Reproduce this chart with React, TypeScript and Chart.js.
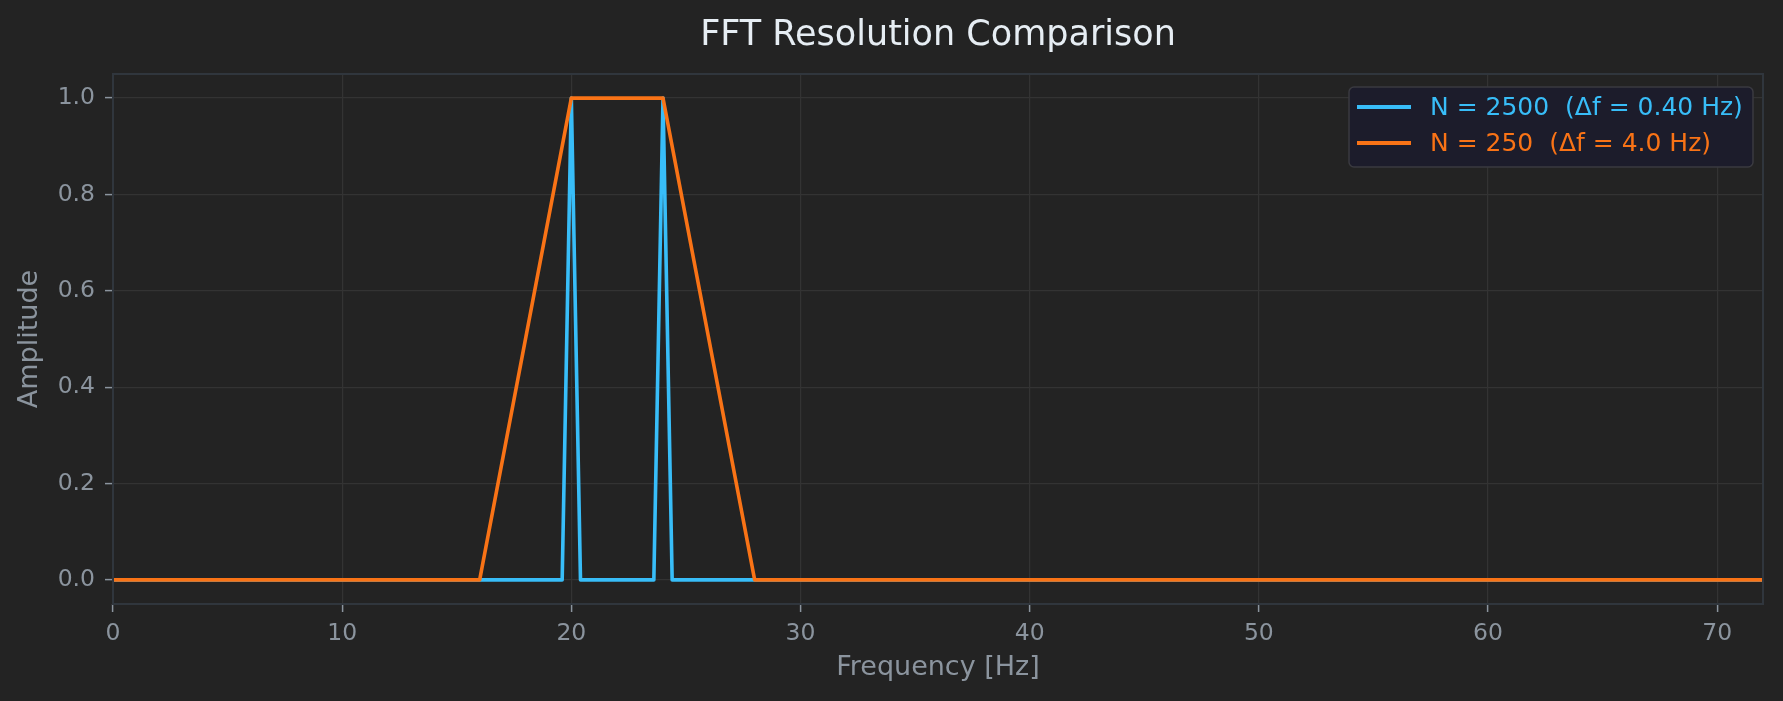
import { useEffect, useRef } from "react";
import { Chart, registerables } from "chart.js";

Chart.register(...registerables);

const TITLE = "FFT Resolution Comparison";
const X_LABEL = "Frequency [Hz]";
const Y_LABEL = "Amplitude";

const hiResLabel = "N = 2500  (Δf = 0.40 Hz)";
const hiResFreq = [0, 19.6, 20, 20.4, 23.6, 24, 24.4, 72];
const hiResAmp = [0, 0, 1, 0, 0, 1, 0, 0];

const loResLabel = "N = 250  (Δf = 4.0 Hz)";
const loResFreq = [0, 16, 20, 24, 28, 72];
const loResAmp = [0, 0, 1, 1, 0, 0];

const xTicks = [0, 10, 20, 30, 40, 50, 60, 70];
const yTicks = [0, 0.2, 0.4, 0.6, 0.8, 1.0];
const X_MIN = 0;
const X_MAX = 72;
const Y_MIN = -0.05;
const Y_MAX = 1.05;

const BG = "#232323";
const BLUE = "#38bdf8";
const ORANGE = "#f97316";
const GRID = "#333333";
const SPINE = "#30363d";
const TICK_TEXT = "#8b949e";
const TITLE_TEXT = "#e6edf3";
const FONT = "'DejaVu Sans', sans-serif";

const W = 1783;
const H = 701;

const titlePlugin = {
  id: "customTitle",
  afterDraw(chart: any) {
    const { ctx, chartArea } = chart;
    ctx.save();
    ctx.font = `35px ${FONT}`;
    ctx.fillStyle = TITLE_TEXT;
    ctx.textAlign = "center";
    ctx.textBaseline = "alphabetic";
    ctx.fillText(TITLE, (chartArea.left + chartArea.right) / 2, 45);
    ctx.restore();
  },
};

const spinePlugin = {
  id: "spines",
  afterDatasetsDraw(chart: any) {
    const { ctx, chartArea } = chart;
    ctx.save();
    ctx.strokeStyle = SPINE;
    ctx.lineWidth = 2;
    ctx.strokeRect(
      chartArea.left,
      chartArea.top,
      chartArea.right - chartArea.left,
      chartArea.bottom - chartArea.top
    );
    ctx.restore();
  },
};

const legendPlugin = {
  id: "customLegend",
  afterDraw(chart: any) {
    const { ctx } = chart;
    const x0 = 1349;
    const y0 = 87;
    const w = 404;
    const h = 80;
    ctx.save();
    ctx.beginPath();
    ctx.roundRect(x0, y0, w, h, 5);
    ctx.fillStyle = "#1c1c2b";
    ctx.fill();
    ctx.strokeStyle = "#3a3a40";
    ctx.lineWidth = 1.5;
    ctx.stroke();
    ctx.font = `25px ${FONT}`;
    ctx.textBaseline = "middle";
    ctx.textAlign = "left";
    chart.data.datasets.forEach((ds: any, i: number) => {
      const y = 107 + i * 36;
      ctx.strokeStyle = ds.borderColor;
      ctx.lineWidth = 4;
      ctx.beginPath();
      ctx.moveTo(1357, y);
      ctx.lineTo(1411, y);
      ctx.stroke();
      ctx.fillStyle = ds.borderColor;
      ctx.fillText(ds.label, 1430, y + 1);
    });
    ctx.restore();
  },
};

export default function App() {
  const ref = useRef<HTMLCanvasElement | null>(null);

  useEffect(() => {
    if (!ref.current) return;
    const toPoints = (xs: number[], ys: number[]) =>
      xs.map((x, i) => ({ x, y: ys[i] }));
    const chart = new Chart(ref.current, {
      type: "line",
      data: {
        datasets: [
          {
            label: hiResLabel,
            data: toPoints(hiResFreq, hiResAmp),
            borderColor: BLUE,
            backgroundColor: BLUE,
            borderWidth: 3.6,
            pointRadius: 0,
            tension: 0,
            borderJoinStyle: "round",
            order: 1,
          },
          {
            label: loResLabel,
            data: toPoints(loResFreq, loResAmp),
            borderColor: ORANGE,
            backgroundColor: ORANGE,
            borderWidth: 3.6,
            pointRadius: 0,
            tension: 0,
            borderJoinStyle: "round",
            order: 0,
          },
        ],
      },
      options: {
        animation: false,
        responsive: false,
        devicePixelRatio: 1,
        layout: { padding: { top: 74, right: 20, left: 0, bottom: 0 } },
        plugins: {
          legend: { display: false },
          title: { display: false },
          tooltip: { enabled: false },
        },
        scales: {
          x: {
            type: "linear",
            min: X_MIN,
            max: X_MAX,
            afterBuildTicks: (s: any) => {
              s.ticks = xTicks.map((v) => ({ value: v }));
            },
            afterFit: (s: any) => {
              s.height = 97;
            },
            grid: {
              color: GRID,
              lineWidth: 1.2,
              drawTicks: true,
              tickLength: 8,
              tickColor: TICK_TEXT,
              tickWidth: 1.5,
            },
            border: { display: false },
            ticks: {
              color: TICK_TEXT,
              font: { family: FONT, size: 23.5 },
              padding: 8,
              maxRotation: 0,
              callback: (v: any) => String(v),
            },
            title: {
              display: true,
              text: X_LABEL,
              color: TICK_TEXT,
              font: { family: FONT, size: 27 },
              padding: { top: 0, bottom: 17 },
            },
          },
          y: {
            type: "linear",
            min: Y_MIN,
            max: Y_MAX,
            afterBuildTicks: (s: any) => {
              s.ticks = yTicks.map((v) => ({ value: v }));
            },
            afterFit: (s: any) => {
              s.width = 113;
            },
            grid: {
              color: GRID,
              lineWidth: 1.2,
              drawTicks: true,
              tickLength: 8,
              tickColor: TICK_TEXT,
              tickWidth: 1.5,
            },
            border: { display: false },
            ticks: {
              color: TICK_TEXT,
              font: { family: FONT, size: 23.5 },
              padding: 10,
              callback: (v: any) => Number(v).toFixed(1),
            },
            title: {
              display: true,
              text: Y_LABEL,
              color: TICK_TEXT,
              font: { family: FONT, size: 27 },
              padding: { top: 14, bottom: 0 },
            },
          },
        },
      },
      plugins: [spinePlugin, titlePlugin, legendPlugin],
    } as any);
    return () => chart.destroy();
  }, []);

  return (
    <div
      style={{
        position: "fixed",
        left: 0,
        top: 0,
        width: W,
        height: H,
        background: BG,
      }}
    >
      <canvas ref={ref} width={W} height={H} style={{ width: W, height: H, display: "block" }} />
    </div>
  );
}
